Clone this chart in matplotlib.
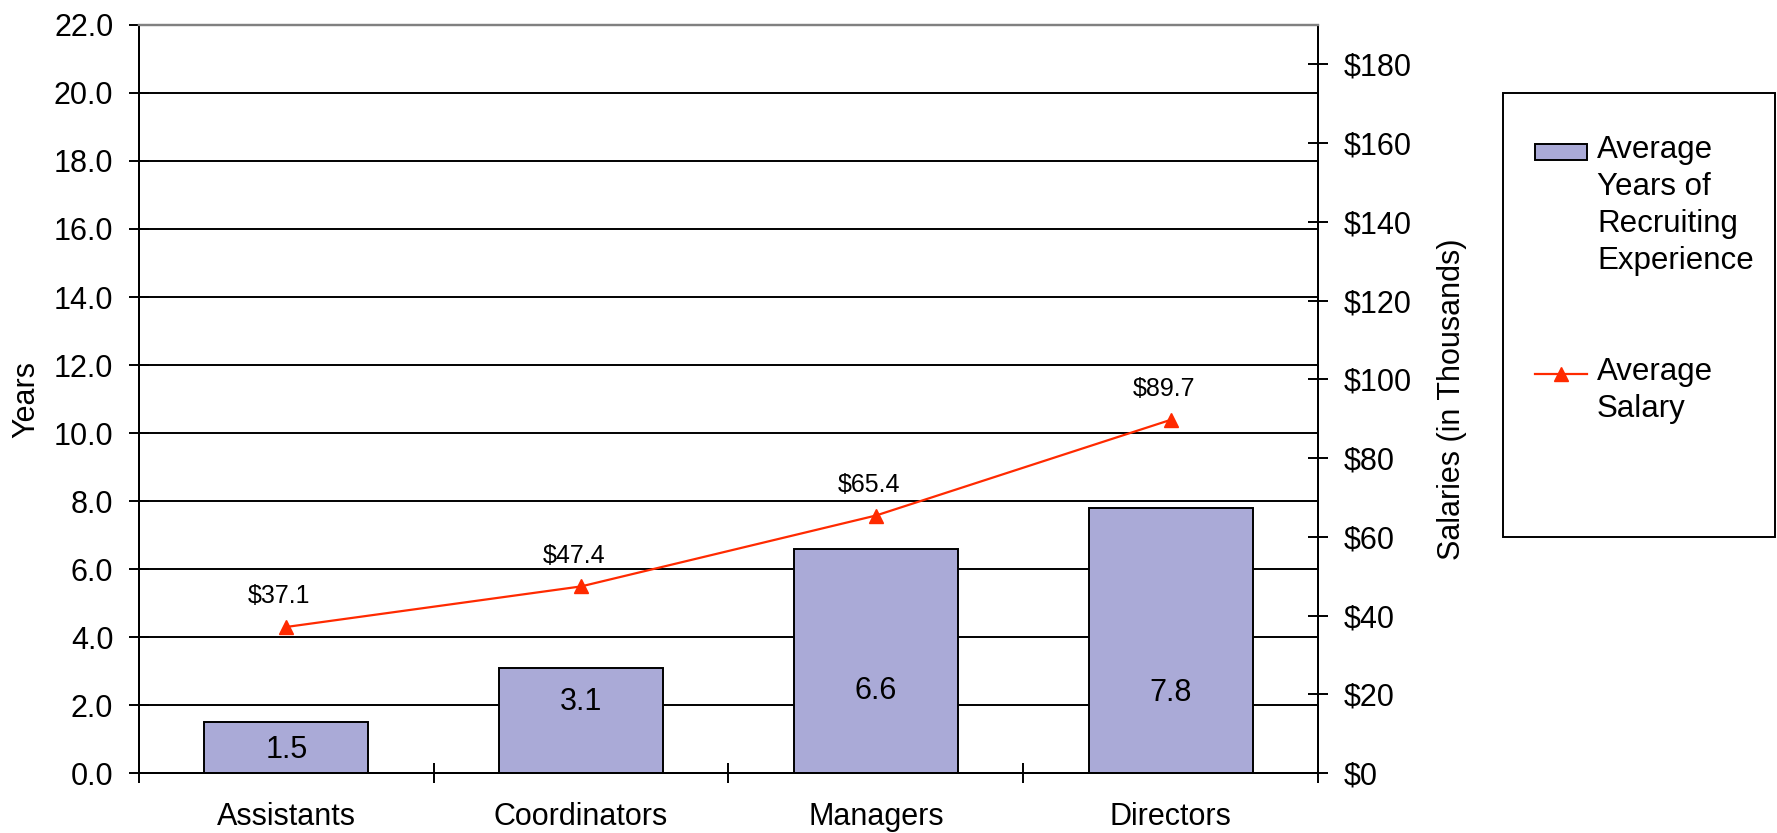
"""Recruiting staff: average years of experience (bars) vs average salary (line)."""

import matplotlib

matplotlib.use("Agg")
import matplotlib.pyplot as plt
from matplotlib.lines import Line2D
from matplotlib.patches import Rectangle

plt.rcParams["font.family"] = ["Liberation Sans", "DejaVu Sans"]

categories = ["Assistants", "Coordinators", "Managers", "Directors"]
years = [1.5, 3.1, 6.6, 7.8]
salary = [37.1, 47.4, 65.4, 89.7]
year_ticks = [0, 2, 4, 6, 8, 10, 12, 14, 16, 18, 20, 22]
salary_ticks = [0, 20, 40, 60, 80, 100, 120, 140, 160, 180]

# where the value text sits inside each bar (years axis units)
bar_label_y = [0.68, 2.1, 2.42, 2.36]

BAR = "#AAAAD7"
RED = "#FF2A00"
FS = 22


def main() -> None:
    fig = plt.figure(figsize=(17.77, 8.33), dpi=100)
    ax = fig.add_axes([0.0782, 0.072, 0.6635, 0.898])
    x = list(range(len(categories)))

    ax.bar(x, years, width=0.556, color=BAR, edgecolor="black", linewidth=1.4, zorder=2)
    for xi, v, ly in zip(x, years, bar_label_y):
        ax.text(xi, ly, f"{v:.1f}", ha="center", va="center", fontsize=FS, zorder=3)

    ax.set_xlim(-0.5, len(categories) - 0.5)
    ax.set_ylim(0, 22)
    ax.set_yticks(year_ticks)
    ax.set_yticklabels([f"{t:.1f}" for t in year_ticks])
    ax.set_xticks([i - 0.5 for i in range(len(categories) + 1)])
    ax.set_xticklabels([])
    ax.set_xticks(x, minor=True)
    ax.set_xticklabels(categories, minor=True)
    ax.tick_params(axis="x", which="minor", length=0, pad=21, labelsize=FS)
    ax.tick_params(axis="x", which="major", direction="inout", length=15, width=1.4)
    ax.tick_params(axis="y", direction="inout", length=15, width=1.4, pad=11, labelsize=FS)
    ax.set_ylabel("Years", fontsize=FS, labelpad=9)

    ax.set_axisbelow(True)
    ax.yaxis.grid(True, color="black", linewidth=1.4)
    for side in ["left", "bottom", "right"]:
        ax.spines[side].set_linewidth(1.4)
    ax.spines["top"].set_color("#808080")
    ax.spines["top"].set_linewidth(1.6)

    ax2 = ax.twinx()
    ax2.plot(x, salary, color=RED, linewidth=1.6, marker="^", markersize=10, zorder=4)
    for xi, v in zip(x, salary):
        ax2.annotate(f"${v:.1f}", (xi, v), xytext=(-5, 22), textcoords="offset points",
                     ha="center", va="center", fontsize=18)
    ax2.set_ylim(0, 190)
    ax2.set_yticks(salary_ticks)
    ax2.set_yticklabels([f"${t}" for t in salary_ticks])
    ax2.tick_params(axis="y", direction="inout", length=15, width=1.4, pad=11, labelsize=FS)
    ax2.set_ylabel("Salaries (in Thousands)", fontsize=FS, labelpad=18)
    for side in ["left", "bottom", "right"]:
        ax2.spines[side].set_linewidth(1.4)
    ax2.spines["top"].set_color("#808080")
    ax2.spines["top"].set_linewidth(1.6)

    # legend, drawn by hand so the swatch lines up with the first text line
    fig.add_artist(Rectangle((0.8458, 0.3553), 0.1531, 0.533, transform=fig.transFigure,
                             facecolor="none", edgecolor="black", linewidth=1.4))
    fig.add_artist(Rectangle((0.8638, 0.8079), 0.0293, 0.0192, transform=fig.transFigure,
                             facecolor=BAR, edgecolor="black", linewidth=1.4))
    fig.text(0.8987, 0.8375, "Average\nYears of\nRecruiting\nExperience",
             ha="left", va="top", fontsize=22.5, linespacing=1.3)
    fig.add_artist(Line2D([0.8638, 0.8931], [0.551, 0.551], transform=fig.transFigure,
                          color=RED, linewidth=1.6))
    fig.add_artist(Line2D([0.8784], [0.551], transform=fig.transFigure,
                          color=RED, marker="^", markersize=10))
    fig.text(0.8987, 0.5715, "Average\nSalary", ha="left", va="top", fontsize=22.5,
             linespacing=1.3)

    fig.savefig("out.png", dpi=100)
    plt.close(fig)


if __name__ == "__main__":
    main()
